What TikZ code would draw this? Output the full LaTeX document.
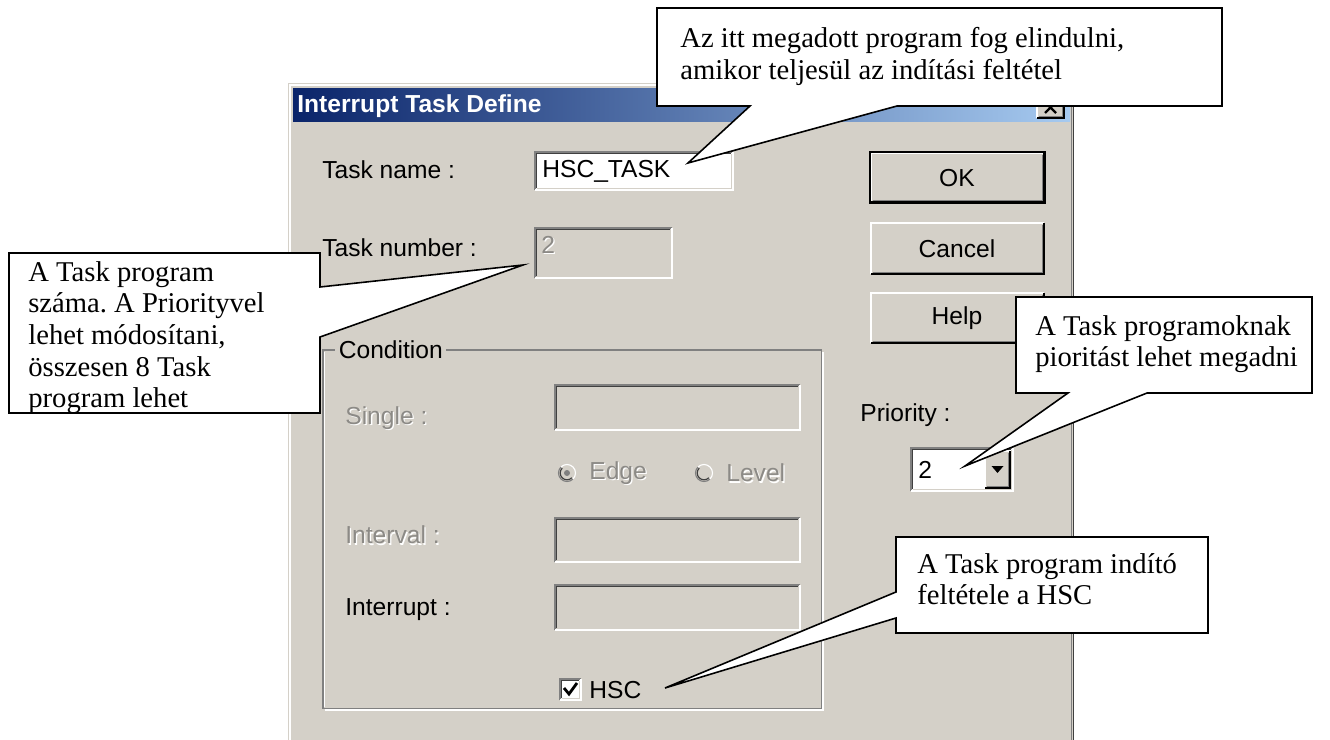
\documentclass[tikz,border=0pt]{standalone}
\usepackage{fontspec}
\setmainfont{Liberation Serif}
\newfontfamily\uifont{Liberation Sans}
\frenchspacing
\definecolor{btnface}{HTML}{D4D0C8}
\definecolor{btnshadow}{HTML}{808080}
\definecolor{darkedge}{HTML}{404040}
\definecolor{titleL}{HTML}{0A246A}
\definecolor{titleR}{HTML}{A6CAF0}
\definecolor{distext}{HTML}{8C8A86}
\tikzset{
  ui/.style={font=\uifont\fontsize{14}{16}\selectfont, inner sep=0pt, anchor=west},
  uic/.style={font=\uifont\fontsize{14}{16}\selectfont, inner sep=0pt},
  note/.style={font=\fontsize{16.3}{18}\selectfont, inner sep=0pt, anchor=north west, align=left},
  balloon/.style={fill=white, draw=black, line width=0.9pt, line join=miter},
  px/.style={line width=0.65pt}
}
% sunken edit field: x1 y1 x2 y2 fill
\newcommand\sunkenfield[5]{%
  \fill[#5] (#1,#2) rectangle (#3,#4);
  \draw[px, btnshadow] (#1,#4) -- (#1,#2) -- (#3,#2);
  \draw[px, darkedge] (#1+1.6,#4-1.6) -- (#1+1.6,#2+1.6) -- (#3-1.6,#2+1.6);
  \draw[px, white] (#1,#4) -- (#3,#4) -- (#3,#2);
  \draw[px, btnface] (#1+1.6,#4-1.6) -- (#3-1.6,#4-1.6) -- (#3-1.6,#2+1.6);
}
% raised push button: x1 y1 x2 y2
\newcommand\raisedbtn[4]{%
  \fill[btnface] (#1,#2) rectangle (#3,#4);
  \draw[px, white] (#1,#4) -- (#1,#2) -- (#3,#2);
  \draw[px, black] (#1,#4) -- (#3,#4) -- (#3,#2);
  \draw[px, btnshadow] (#1+1.6,#4-1.6) -- (#3-1.6,#4-1.6) -- (#3-1.6,#2+1.6);
}
% greyed-out label with its white engraving
\newcommand\distxt[4]{%
  \node[ui, text=white] (#1s) at (#2+1.3,#3+1.3) {#4};
  \node[ui, text=distext] (#1) at (#2,#3) {#4};
}
% disabled radio button
\newcommand\radio[3]{%
  \fill[btnface] (#2,#3) circle (8.5);
  \draw[px, btnshadow] (#2,#3) ++(45:8.5) arc (45:225:8.5);
  \draw[px, white] (#2,#3) ++(225:8.5) arc (225:405:8.5);
  \draw[px, darkedge] (#2,#3) ++(45:6.8) arc (45:225:6.8);
  \coordinate (#1) at (#2,#3);
}
\begin{document}
\begin{tikzpicture}[x=0.02cm, y=-0.02cm]
\useasboundingbox (0,0) rectangle (1330,740);
\fill[white] (0,0) rectangle (1330,740);

% ---- dialog window ----
\fill[btnface] (288,83) rectangle (1074,742);
\draw[px, white] (290,742) -- (290,85) -- (1071,85);
\draw[px, btnshadow] (1071.5,86) -- (1071.5,742);
\draw[px, darkedge] (1073.5,83) -- (1073.5,742);
\shade[left color=titleL, right color=titleR] (293,89) rectangle (1070,122);
\node[font=\uifont\bfseries\fontsize{14}{16}\selectfont, text=white, inner sep=0pt, anchor=west] (title) at (297,106) {Interrupt Task Define};
% close button
\raisedbtn{1037}{96}{1064}{118}
\draw[line width=1.3pt] (1045,102) -- (1056,113) (1056,102) -- (1045,113);

% task name / number
\node[ui] (lname) at (322,170) {Task name :};
\sunkenfield{535}{152}{733}{190}{white}
\node[ui] (vname) at (542,171) {HSC\_TASK};
\node[ui] (lnum) at (322,248) {Task number :};
\sunkenfield{535}{228}{672}{278}{btnface}
\distxt{vnum}{541}{245}{2}

% buttons
\raisedbtn{871}{153}{1044}{202}
\draw[line width=0.9pt] (870,152) rectangle (1045,203);
\node[uic] (ok) at (957,178) {OK};
\raisedbtn{871}{223}{1044}{274}
\node[uic] (cancel) at (957,249) {Cancel};
\raisedbtn{871}{293}{1044}{343}
\node[uic] (help) at (957,318) {Help};

% condition group
\draw[px, btnshadow] (323,350) rectangle (821.5,708.5);
\draw[px, white] (324.5,351.5) -- (324.5,707) (324.5,710) -- (823,710) -- (823,351.5);
\node[ui, fill=btnface, inner xsep=2pt] (lcond) at (335,350) {Condition};
\distxt{lsingle}{345}{418}{Single :}
\sunkenfield{555}{385}{800}{430}{btnface}
\radio{redge}{567}{473}
\fill[btnshadow] (redge) circle (3);
\distxt{ledge}{589}{473}{Edge}
\radio{rlevel}{704}{473}
\distxt{llevel}{726}{473}{Level}
\distxt{linterval}{345}{535}{Interval :}
\sunkenfield{555}{518}{800}{562}{btnface}
\node[ui] (lint) at (345,610) {Interrupt :};
\sunkenfield{555}{585}{800}{630}{btnface}
\sunkenfield{560}{679}{581}{700}{white}
\draw[line width=1.6pt] (564,688) -- (569,694) -- (577,683);
\node[ui] (lhsc) at (589,690) {HSC};

% priority
\node[ui] (lprio) at (860,415) {Priority :};
\sunkenfield{911}{448}{1013}{491}{white}
\raisedbtn{985}{451}{1010}{488}
\fill (991.5,466) -- (1003.5,466) -- (997.5,473) -- cycle;
\node[ui] (vprio) at (918,470) {2};

% ---- callouts ----
\coordinate (tipname) at (688,163);
\draw[balloon] (657,8) -- (1222,8) -- (1222,106) -- (897,106) -- (tipname) -- (750,106) -- (657,106) -- cycle;
\node[note] (n1) at (680,27) {Az itt megadott program fog elindulni,\\amikor teljesül az indítási feltétel};

\coordinate (tipnum) at (523,265);
\draw[balloon] (9,253) -- (320,253) -- (320,287) -- (tipnum) -- (320,337) -- (320,413) -- (9,413) -- cycle;
\node[note] (n2) at (28,261) {A Task program\\száma. A Priorityvel\\lehet módosítani,\\összesen 8 Task\\program lehet};

\coordinate (tipprio) at (965,466);
\draw[balloon] (1016,297) -- (1312,297) -- (1312,393) -- (1147,393) -- (tipprio) -- (1068,393) -- (1016,393) -- cycle;
\node[note] (n3) at (1035,315) {A Task programoknak\\pioritást lehet megadni};

\coordinate (tiphsc) at (665,688);
\draw[balloon] (896,537) -- (1208,537) -- (1208,633) -- (896,633) -- (896,618) -- (tiphsc) -- (896,592) -- cycle;
\node[note] (n4) at (917,553) {A Task program indító\\feltétele a HSC};
\end{tikzpicture}
\end{document}
